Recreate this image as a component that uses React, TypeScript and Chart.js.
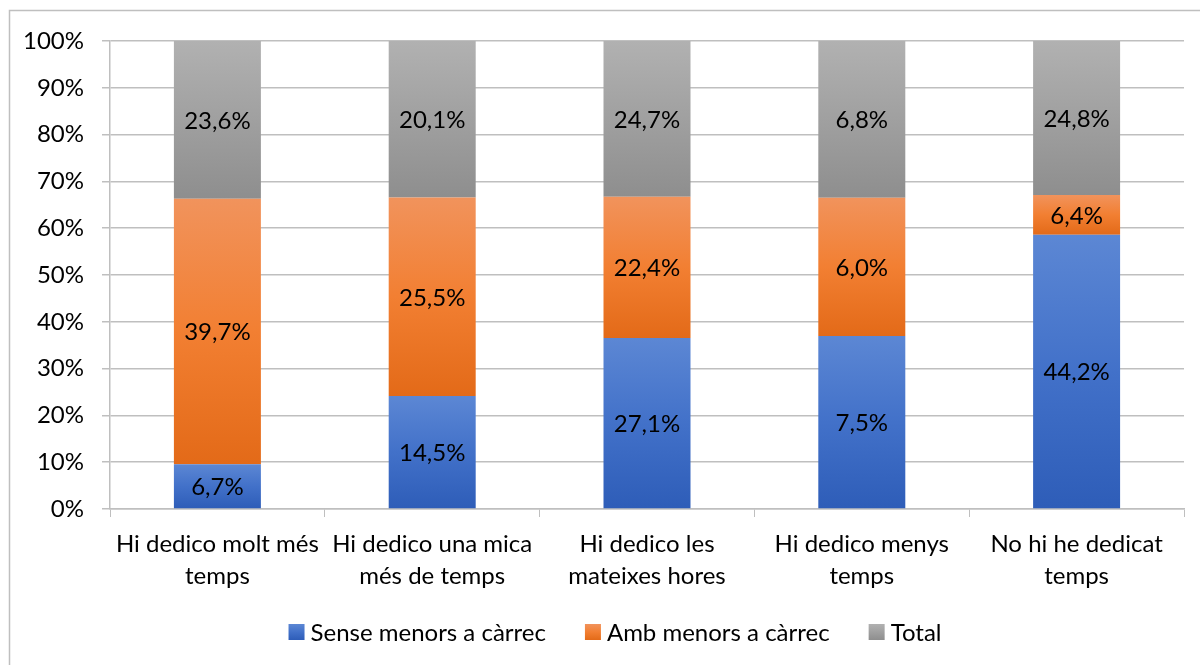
import React, { useEffect, useRef } from "react";
import { Chart, registerables } from "chart.js";

Chart.register(...registerables);

const categories: string[][] = [
  ["Hi dedico molt més", "temps"],
  ["Hi dedico una mica", "més de temps"],
  ["Hi dedico les", "mateixes hores"],
  ["Hi dedico menys", "temps"],
  ["No hi he dedicat", "temps"],
];
const seriesNames = ["Sense menors a càrrec", "Amb menors a càrrec", "Total"];
const senseValues = [6.7, 14.5, 27.1, 7.5, 44.2];
const ambValues = [39.7, 25.5, 22.4, 6.0, 6.4];
const totalValues = [23.6, 20.1, 24.7, 6.8, 24.8];
const yTicks = [0, 10, 20, 30, 40, 50, 60, 70, 80, 90, 100];

const gradients = [
  ["#5C87D4", "#4271C9", "#2E5DB8"],
  ["#F1935C", "#F27F32", "#E36A18"],
  ["#B1B1B1", "#A0A0A0", "#8E8E8E"],
];

const FONT = "Lato, 'Open Sans', sans-serif";
const FS = 24;

const rawSeries = [senseValues, ambValues, totalValues];
const sums = senseValues.map((_, i) => rawSeries.reduce((a, s) => a + s[i], 0));
const pctSeries = rawSeries.map((s) => s.map((v, i) => (v / sums[i]) * 100));

const fmt = (v: number) => v.toFixed(1).replace(".", ",") + "%";

const makeGrad = (ctx: any, i: number, top: number, bot: number) => {
  const g = ctx.createLinearGradient(0, top, 0, bot);
  g.addColorStop(0, gradients[i][0]);
  g.addColorStop(0.5, gradients[i][1]);
  g.addColorStop(1, gradients[i][2]);
  return g;
};

const framePlugin = {
  id: "frame",
  beforeDraw(chart: any) {
    const ctx = chart.ctx;
    ctx.save();
    ctx.strokeStyle = "#BFBFBF";
    ctx.lineWidth = 1.5;
    ctx.beginPath();
    ctx.moveTo(9.5, chart.height);
    ctx.lineTo(9.5, 10.5);
    ctx.lineTo(chart.width, 10.5);
    ctx.stroke();
    ctx.restore();
  },
};

const gradientPlugin = {
  id: "grad",
  beforeDatasetsDraw(chart: any) {
    const ctx = chart.ctx;
    chart.data.datasets.forEach((_: any, di: number) => {
      const meta = chart.getDatasetMeta(di);
      meta.data.forEach((el: any) => {
        const top = Math.min(el.y, el.base);
        const bot = Math.max(el.y, el.base);
        el.options = Object.assign({}, el.options, {
          backgroundColor: makeGrad(ctx, di, top, bot),
        });
      });
    });
  },
};

const labelPlugin = {
  id: "labels",
  afterDatasetsDraw(chart: any) {
    const ctx = chart.ctx;
    ctx.save();
    ctx.font = `${FS}px ${FONT}`;
    ctx.fillStyle = "#000000";
    ctx.textAlign = "center";
    ctx.textBaseline = "middle";
    chart.data.datasets.forEach((_: any, di: number) => {
      const meta = chart.getDatasetMeta(di);
      meta.data.forEach((el: any, i: number) => {
        const y = (el.y + el.base) / 2;
        ctx.fillText(fmt(rawSeries[di][i]), el.x, y + 1);
      });
    });
    ctx.restore();
  },
};

const legendPlugin = {
  id: "customLegend",
  afterDraw(chart: any) {
    const ctx = chart.ctx;
    ctx.save();
    ctx.font = `${FS}px ${FONT}`;
    ctx.textBaseline = "middle";
    ctx.textAlign = "left";
    const box = 16;
    const gapBoxText = 6;
    const gapItems = 39;
    const widths = seriesNames.map((n) => ctx.measureText(n).width);
    const total =
      widths.reduce((a, w) => a + w + box + gapBoxText, 0) + gapItems * (seriesNames.length - 1);
    let x = 615 - total / 2;
    const cy = 632;
    seriesNames.forEach((n, i) => {
      ctx.fillStyle = makeGrad(ctx, i, cy - box / 2, cy + box / 2);
      ctx.fillRect(x, cy - box / 2, box, box);
      x += box + gapBoxText;
      ctx.fillStyle = "#000000";
      ctx.fillText(n, x, cy + 1);
      x += widths[i] + gapItems;
    });
    ctx.restore();
  },
};

export default function App() {
  const ref = useRef<HTMLCanvasElement>(null);
  useEffect(() => {
    if (!ref.current) return;
    const chart = new Chart(ref.current, {
      type: "bar",
      data: {
        labels: categories,
        datasets: seriesNames.map((name, i) => ({
          label: name,
          data: pctSeries[i],
          backgroundColor: gradients[i][1],
          borderWidth: 0,
          barPercentage: 0.81,
          categoryPercentage: 0.5,
        })),
      },
      options: {
        responsive: false,
        animation: false,
        maintainAspectRatio: false,
        layout: { padding: { top: 41, right: 16, bottom: 56, left: 0 } },
        plugins: {
          legend: { display: false },
          tooltip: { enabled: false },
        },
        scales: {
          x: {
            stacked: true,
            grid: {
              display: true,
              drawOnChartArea: false,
              drawTicks: true,
              tickLength: 8,
              color: "#BFBFBF",
              offset: true,
            },
            border: { display: true, color: "#BFBFBF", width: 1.5 },
            ticks: {
              color: "#000000",
              font: { family: FONT, size: FS, lineHeight: 1.3 },
              padding: 12,
              maxRotation: 0,
              autoSkip: false,
            },
            afterFit: (s: any) => {
              s.height = 100;
            },
          },
          y: {
            stacked: true,
            min: 0,
            max: 100,
            afterBuildTicks: (s: any) => {
              s.ticks = yTicks.map((v) => ({ value: v }));
            },
            grid: {
              color: "#BFBFBF",
              lineWidth: 1.5,
              tickLength: 8,
              drawTicks: true,
            },
            border: { display: true, color: "#BFBFBF", width: 1.5 },
            ticks: {
              color: "#000000",
              font: { family: FONT, size: FS },
              padding: 18,
              callback: (v: any) => v + "%",
            },
            afterFit: (s: any) => {
              s.width = 110;
            },
          },
        },
      },
      plugins: [framePlugin, gradientPlugin, labelPlugin, legendPlugin],
    });
    return () => chart.destroy();
  }, []);
  return (
    <div style={{ position: "fixed", left: 0, top: 0, width: 1200, height: 665, background: "#fff" }}>
      <canvas ref={ref} width={1200} height={665} style={{ display: "block" }} />
    </div>
  );
}
